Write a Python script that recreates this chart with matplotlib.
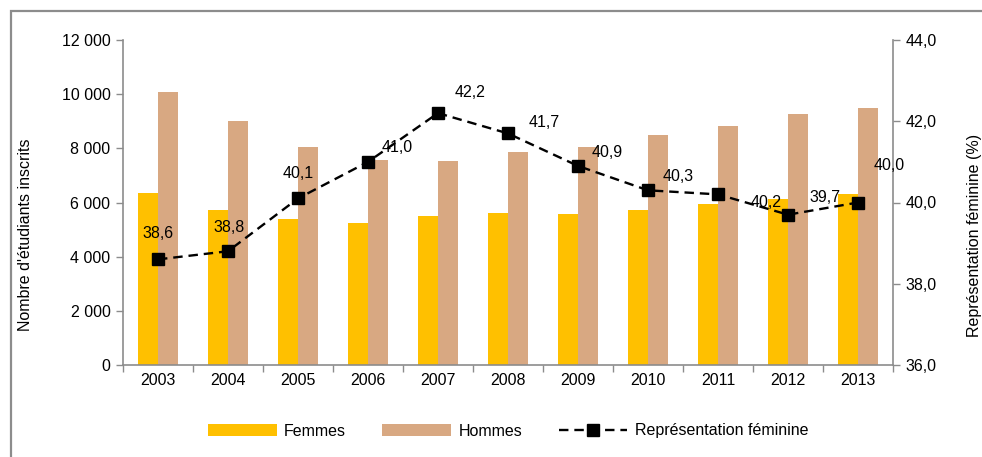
import matplotlib
matplotlib.use("Agg")
import matplotlib.pyplot as plt
from matplotlib.patches import Rectangle
import numpy as np

plt.rcParams['font.family'] = ['Liberation Sans', 'DejaVu Sans']

years = ['2003', '2004', '2005', '2006', '2007', '2008', '2009', '2010', '2011', '2012', '2013']
femmes = [6340, 5710, 5390, 5255, 5500, 5625, 5590, 5735, 5945, 6115, 6325]
hommes = [10090, 9020, 8060, 7570, 7545, 7875, 8060, 8490, 8835, 9280, 9490]
representation = [38.6, 38.8, 40.1, 41.0, 42.2, 41.7, 40.9, 40.3, 40.2, 39.7, 40.0]

# label offsets in pixels (styling)
label_offsets = [(0, 26), (1, 24), (0, 25), (29, 14), (32, 21), (36, 11),
                 (29, 13), (30, 14), (48, -8), (37, 17), (31, 37)]

C_F = '#FFC000'
C_H = '#D8A882'
GRAY = '#8C8C8C'
FS = 11.5

fig = plt.figure(figsize=(9.82, 4.57), dpi=100)
ax = fig.add_axes([123/982, 92/457, 770/982, 325/457])
ax2 = ax.twinx()

x = np.arange(len(years))
w = 0.29
bF = ax.bar(x - w/2, femmes, width=w, color=C_F, label='Femmes', zorder=2)
bH = ax.bar(x + w/2, hommes, width=w, color=C_H, label='Hommes', zorder=2)

ax.set_xlim(-0.5, len(years) - 0.5)
ax.set_ylim(0, 12000)
ax.set_yticks(np.arange(0, 12001, 2000))
ax.set_yticklabels([f"{int(v):,}".replace(',', ' ') for v in np.arange(0, 12001, 2000)], fontsize=FS)
ax.set_xticks(x)
ax.set_xticklabels(years, fontsize=FS)
ax.set_xticks(np.arange(-0.5, len(years), 1.0), minor=True)
ax.tick_params(axis='x', which='major', length=0, pad=6)
ax.tick_params(axis='x', which='minor', length=5, color=GRAY, width=1)
ax.tick_params(axis='y', length=5, color=GRAY, width=1, pad=4)
for s in ['top', 'right']:
    ax.spines[s].set_visible(False)
for s in ['left', 'bottom']:
    ax.spines[s].set_color(GRAY)
    ax.spines[s].set_linewidth(1.2)
ax.set_ylabel("Nombre d'étudiants inscrits", fontsize=FS, va='center', ha='center')
ax.yaxis.set_label_coords(-0.126, 0.4)

ln, = ax2.plot(x, representation, color='black', linestyle=(0, (4, 2.5)), linewidth=1.7,
               marker='s', markersize=8.5, markerfacecolor='black', label='Représentation féminine',
               zorder=3)
ax2.set_ylim(36, 44)
ax2.set_yticks(np.arange(36, 44.01, 2))
ax2.set_yticklabels([f"{v:.1f}".replace('.', ',') for v in np.arange(36, 44.01, 2)], fontsize=FS)
ax2.tick_params(axis='y', length=5, color=GRAY, width=1, pad=4)
for s in ['top', 'left', 'bottom']:
    ax2.spines[s].set_visible(False)
ax2.spines['right'].set_color(GRAY)
ax2.spines['right'].set_linewidth(1.2)
ax2.set_ylabel("Représentation féminine (%)", fontsize=FS, va='center', ha='center')
ax2.yaxis.set_label_coords(1.106, 0.4)

for xi, v, (dx, dy) in zip(x, representation, label_offsets):
    ax2.annotate(f"{v:.1f}".replace('.', ','), (xi, v), xytext=(dx, dy),
                 textcoords='offset pixels', ha='center', va='center', fontsize=FS, zorder=4)

fig.legend([bF, bH, ln], ['Femmes', 'Hommes', 'Représentation féminine'],
           loc='center', bbox_to_anchor=(508/982, 26/457), ncol=3, frameon=False,
           fontsize=FS, handlelength=4.3, handletextpad=0.45, columnspacing=2.3)

fig.patches.append(Rectangle((11/982, -0.1), 1.2, (457-11)/457 + 0.1, transform=fig.transFigure,
                             fill=False, edgecolor=GRAY, linewidth=1.6, zorder=0))

fig.savefig('out.png', dpi=100)
